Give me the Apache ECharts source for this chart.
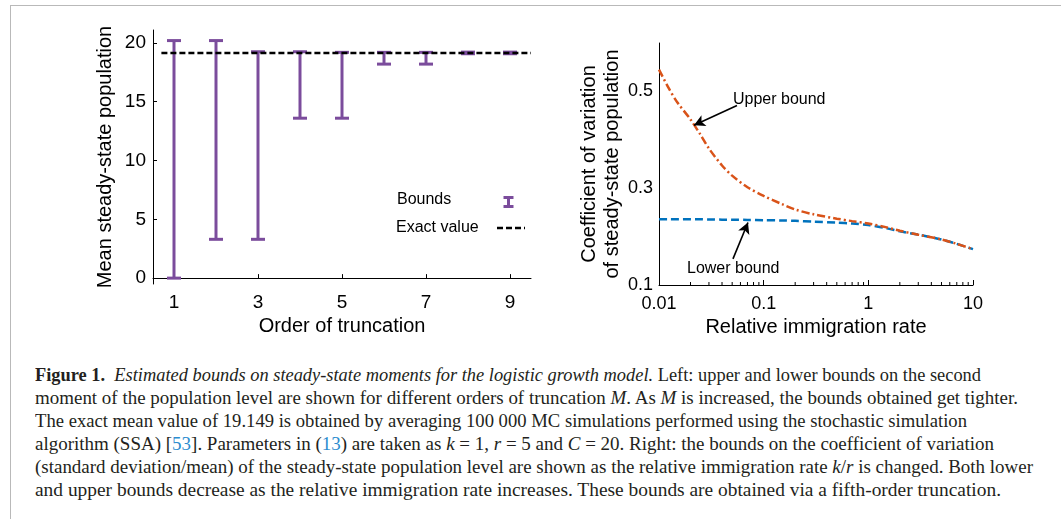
<!DOCTYPE html>
<html>
<head>
<meta charset="utf-8">
<script src="https://cdn.jsdelivr.net/npm/echarts@6/dist/echarts.min.js"></script>
<style>
  html, body { margin: 0; padding: 0; background: #fff; width: 1061px; height: 519px; overflow: hidden; }
  #frame { position: absolute; left: 10px; top: 5px; right: -2px; bottom: -2px; border-left: 1px solid #b9b9b9; border-top: 1px solid #b9b9b9; }
  #chart { position: absolute; left: 0; top: 0; width: 1061px; height: 350px; }
  #caption { position: absolute; left: 35px; top: 364px; font-family: "Liberation Serif", "DejaVu Serif", serif; font-size: 18.5px; line-height: 23px; color: #231f20; white-space: nowrap; }
  #caption .ln { display: block; height: 23px; }
  #caption .ln span.inner { display: inline-block; transform-origin: 0 0; }
  .ref { color: #2b8ccf; }
</style>
</head>
<body>
<div id="frame"></div>
<div id="chart"></div>
<div id="caption">
  <div class="ln" data-w="946"><span class="inner"><b>Figure 1.</b>&nbsp; <i>Estimated bounds on steady-state moments for the logistic growth model.</i> Left: upper and lower bounds on the second</span></div>
  <div class="ln" data-w="983"><span class="inner">moment of the population level are shown for different orders of truncation <i>M</i>. As <i>M</i> is increased, the bounds obtained get tighter.</span></div>
  <div class="ln" data-w="932"><span class="inner">The exact mean value of 19.149 is obtained by averaging 100 000 MC simulations performed using the stochastic simulation</span></div>
  <div class="ln" data-w="959"><span class="inner">algorithm (SSA) [<span class="ref">53</span>]. Parameters in (<span class="ref">13</span>) are taken as <i>k</i> = 1, <i>r</i> = 5 and <i>C</i> = 20. Right: the bounds on the coefficient of variation</span></div>
  <div class="ln" data-w="998"><span class="inner">(standard deviation/mean) of the steady-state population level are shown as the relative immigration rate <i>k</i>/<i>r</i> is changed. Both lower</span></div>
  <div class="ln" data-w="966"><span class="inner">and upper bounds decrease as the relative immigration rate increases. These bounds are obtained via a fifth-order truncation.</span></div>
</div>
<script>
// ---------- Left panel data ----------
const orders = [1, 2, 3, 4, 5, 6, 7, 8, 9];
const lowerBounds = [0.0, 3.3, 3.3, 13.6, 13.6, 18.2, 18.2, 19.08, 19.08];
const upperBounds = [20.2, 20.2, 19.25, 19.25, 19.2, 19.2, 19.2, 19.22, 19.22];
const exactValue = 19.149;
const exactRange = [0.7, 9.5];
const leftXTicks = [1, 3, 5, 7, 9];
const leftYTicks = [0, 5, 10, 15, 20];

// ---------- Right panel data ----------
const rates = [0.01, 0.0125, 0.015, 0.02, 0.025, 0.03, 0.04, 0.05, 0.07, 0.1, 0.15, 0.2, 0.3, 0.5, 0.7, 1, 1.5, 2, 3, 5, 7, 10];
const upperCV = [0.545, 0.505, 0.477, 0.442, 0.410, 0.382, 0.347, 0.326, 0.302, 0.284, 0.267, 0.256, 0.246, 0.237, 0.232, 0.227, 0.219, 0.212, 0.204, 0.194, 0.185, 0.174];
const lowerCV = [0.236, 0.236, 0.236, 0.236, 0.2358, 0.2355, 0.235, 0.2348, 0.2345, 0.234, 0.2333, 0.2325, 0.231, 0.229, 0.227, 0.224, 0.217, 0.211, 0.204, 0.194, 0.185, 0.174];
const rightYTicks = [0.1, 0.3, 0.5];
const rightXMinorTicks = [0.02,0.03,0.04,0.05,0.06,0.07,0.08,0.09,0.2,0.3,0.4,0.5,0.6,0.7,0.8,0.9,2,3,4,5,6,7,8,9];
const upperArrow = [[0.0556, 0.471], [0.0216, 0.430]];
const lowerArrow = [[0.0509, 0.154], [0.0708, 0.229]];

const purple = '#7b4c9c';
const orange = '#d95319';
const blue = '#0072bd';
const font = 'Liberation Sans, Arial, sans-serif';

const chart = echarts.init(document.getElementById('chart'), null, { renderer: 'canvas' });

const nameStyle = { color: '#000', fontSize: 20, fontFamily: font };

chart.setOption({
  animation: false,
  backgroundColor: 'transparent',
  grid: [
    { left: 153, top: 30, width: 378, height: 254 },
    { left: 659, top: 43, width: 314, height: 242 }
  ],
  xAxis: [
    {
      gridIndex: 0, type: 'value', min: 0.5, max: 9.5,
      name: 'Order of truncation', nameLocation: 'middle', nameGap: 30,
      nameTextStyle: nameStyle,
      axisLine: { lineStyle: { color: '#000', width: 1 } }, splitLine: { show: false },
      axisTick: { inside: true, length: 4, customValues: leftXTicks, lineStyle: { color: '#000' } },
      axisLabel: { color: '#000', fontFamily: font, fontSize: 19, margin: 9, customValues: leftXTicks }
    },
    {
      gridIndex: 1, type: 'log', logBase: 10, min: 0.01, max: 10,
      name: 'Relative immigration rate', nameLocation: 'middle', nameGap: 32,
      nameTextStyle: nameStyle,
      axisLine: { lineStyle: { color: '#000', width: 1 } }, splitLine: { show: false },
      axisTick: { inside: true, length: 5, lineStyle: { color: '#000' } },
      minorTick: { show: false },
      axisLabel: { color: '#000', fontFamily: font, fontSize: 18, margin: 10,
        formatter: v => (v >= 1 ? String(Math.round(v)) : String(+v.toPrecision(1))) }
    }
  ],
  yAxis: [
    {
      gridIndex: 0, type: 'value', min: -0.5, max: 21.1,
      name: 'Mean steady-state population', nameLocation: 'middle', nameGap: 38,
      nameTextStyle: nameStyle,
      axisLine: { show: true, lineStyle: { color: '#000', width: 1 } }, splitLine: { show: false },
      axisTick: { show: true, inside: true, length: 4, customValues: leftYTicks, lineStyle: { color: '#000' } },
      axisLabel: { color: '#000', fontFamily: font, fontSize: 19, margin: 7, customValues: leftYTicks }
    },
    {
      gridIndex: 1, type: 'value', min: 0.1, max: 0.6,
      name: 'Coefficient of variation\nof steady-state population', nameLocation: 'middle', nameGap: 25,
      nameTextStyle: { color: '#000', fontSize: 20, fontFamily: font, lineHeight: 23 },
      axisLine: { show: true, lineStyle: { color: '#000', width: 1 } }, splitLine: { show: false },
      axisTick: { show: false },
      axisLabel: { color: '#000', fontFamily: font, fontSize: 18, margin: 6, customValues: rightYTicks,
        formatter: v => v.toFixed(1) }
    }
  ],
  series: [
    {
      name: 'Bounds', type: 'custom', xAxisIndex: 0, yAxisIndex: 0,
      data: orders.map((o, i) => [o, lowerBounds[i], upperBounds[i]]),
      renderItem: function (params, api) {
        const x = api.value(0);
        const lo = api.coord([x, api.value(1)]);
        const hi = api.coord([x, api.value(2)]);
        const hw = 7;
        const style = { stroke: purple, lineWidth: 3, fill: null };
        return {
          type: 'group',
          children: [
            { type: 'line', shape: { x1: lo[0], y1: lo[1], x2: hi[0], y2: hi[1] }, style },
            { type: 'line', shape: { x1: lo[0] - hw, y1: lo[1], x2: lo[0] + hw, y2: lo[1] }, style },
            { type: 'line', shape: { x1: hi[0] - hw, y1: hi[1], x2: hi[0] + hw, y2: hi[1] }, style }
          ]
        };
      },
      z: 2
    },
    {
      name: 'Exact value', type: 'line', xAxisIndex: 0, yAxisIndex: 0,
      data: exactRange.map(x => [x, exactValue]),
      showSymbol: false, symbol: 'none',
      lineStyle: { color: '#000', width: 2.5, type: [6, 3] },
      z: 3
    },
    {
      name: 'minor ticks', type: 'custom', xAxisIndex: 1, yAxisIndex: 1, silent: true,
      data: rightXMinorTicks.map(v => [v, rightYTicks[0]]),
      renderItem: function (params, api) {
        const p = api.coord([api.value(0), api.value(1)]);
        return { type: 'line', shape: { x1: p[0], y1: p[1], x2: p[0], y2: p[1] - 3 }, style: { stroke: '#000', lineWidth: 1 } };
      },
      z: 1
    },
    {
      name: 'Lower bound', type: 'line', xAxisIndex: 1, yAxisIndex: 1,
      data: rates.map((r, i) => [r, lowerCV[i]]),
      smooth: 0.3, showSymbol: false, symbol: 'none',
      lineStyle: { color: blue, width: 2.5, type: [8, 4] },
      markLine: {
        silent: true, symbol: ['none', 'arrow'], symbolSize: [9, 11],
        lineStyle: { color: '#000', width: 1.6, type: 'solid' }, label: { show: false },
        data: [[{ coord: lowerArrow[0] }, { coord: lowerArrow[1] }]]
      },
      z: 3
    },
    {
      name: 'Upper bound', type: 'line', xAxisIndex: 1, yAxisIndex: 1,
      data: rates.map((r, i) => [r, upperCV[i]]),
      smooth: 0.3, showSymbol: false, symbol: 'none',
      lineStyle: { color: orange, width: 2.5, type: [8, 3, 2, 3] },
      markLine: {
        silent: true, symbol: ['none', 'arrow'], symbolSize: [9, 11],
        lineStyle: { color: '#000', width: 1.6, type: 'solid' }, label: { show: false },
        data: [[{ coord: upperArrow[0] }, { coord: upperArrow[1] }]]
      },
      z: 4
    }
  ],
  graphic: [
    // legend of left panel
    { type: 'text', left: 397, top: 192, style: { text: 'Bounds', fill: '#000', font: '16px ' + font } },
    { type: 'group', left: 501, top: 194, children: [
      { type: 'line', shape: { x1: 6, y1: 0, x2: 6, y2: 11 }, style: { stroke: purple, lineWidth: 3 } },
      { type: 'line', shape: { x1: 1, y1: 1, x2: 11, y2: 1 }, style: { stroke: purple, lineWidth: 3 } },
      { type: 'line', shape: { x1: 1, y1: 10, x2: 11, y2: 10 }, style: { stroke: purple, lineWidth: 3 } }
    ] },
    { type: 'text', left: 396, top: 220, style: { text: 'Exact value', fill: '#000', font: '16px ' + font } },
    { type: 'line', shape: { x1: 497, y1: 228, x2: 525, y2: 228 }, style: { stroke: '#000', lineWidth: 2.5, lineDash: [6, 3] } },
    // annotations of right panel
    { type: 'text', left: 733, top: 92, style: { text: 'Upper bound', fill: '#000', font: '16px ' + font } },
    { type: 'text', left: 687, top: 261, style: { text: 'Lower bound', fill: '#000', font: '16px ' + font } }
  ]
});

// fit caption lines to measured widths
document.querySelectorAll('#caption .ln').forEach(ln => {
  const inner = ln.querySelector('.inner');
  const w = inner.getBoundingClientRect().width;
  const target = +ln.dataset.w;
  if (w > 0) inner.style.transform = 'scaleX(' + (target / w) + ')';
});
</script>
</body>
</html>
